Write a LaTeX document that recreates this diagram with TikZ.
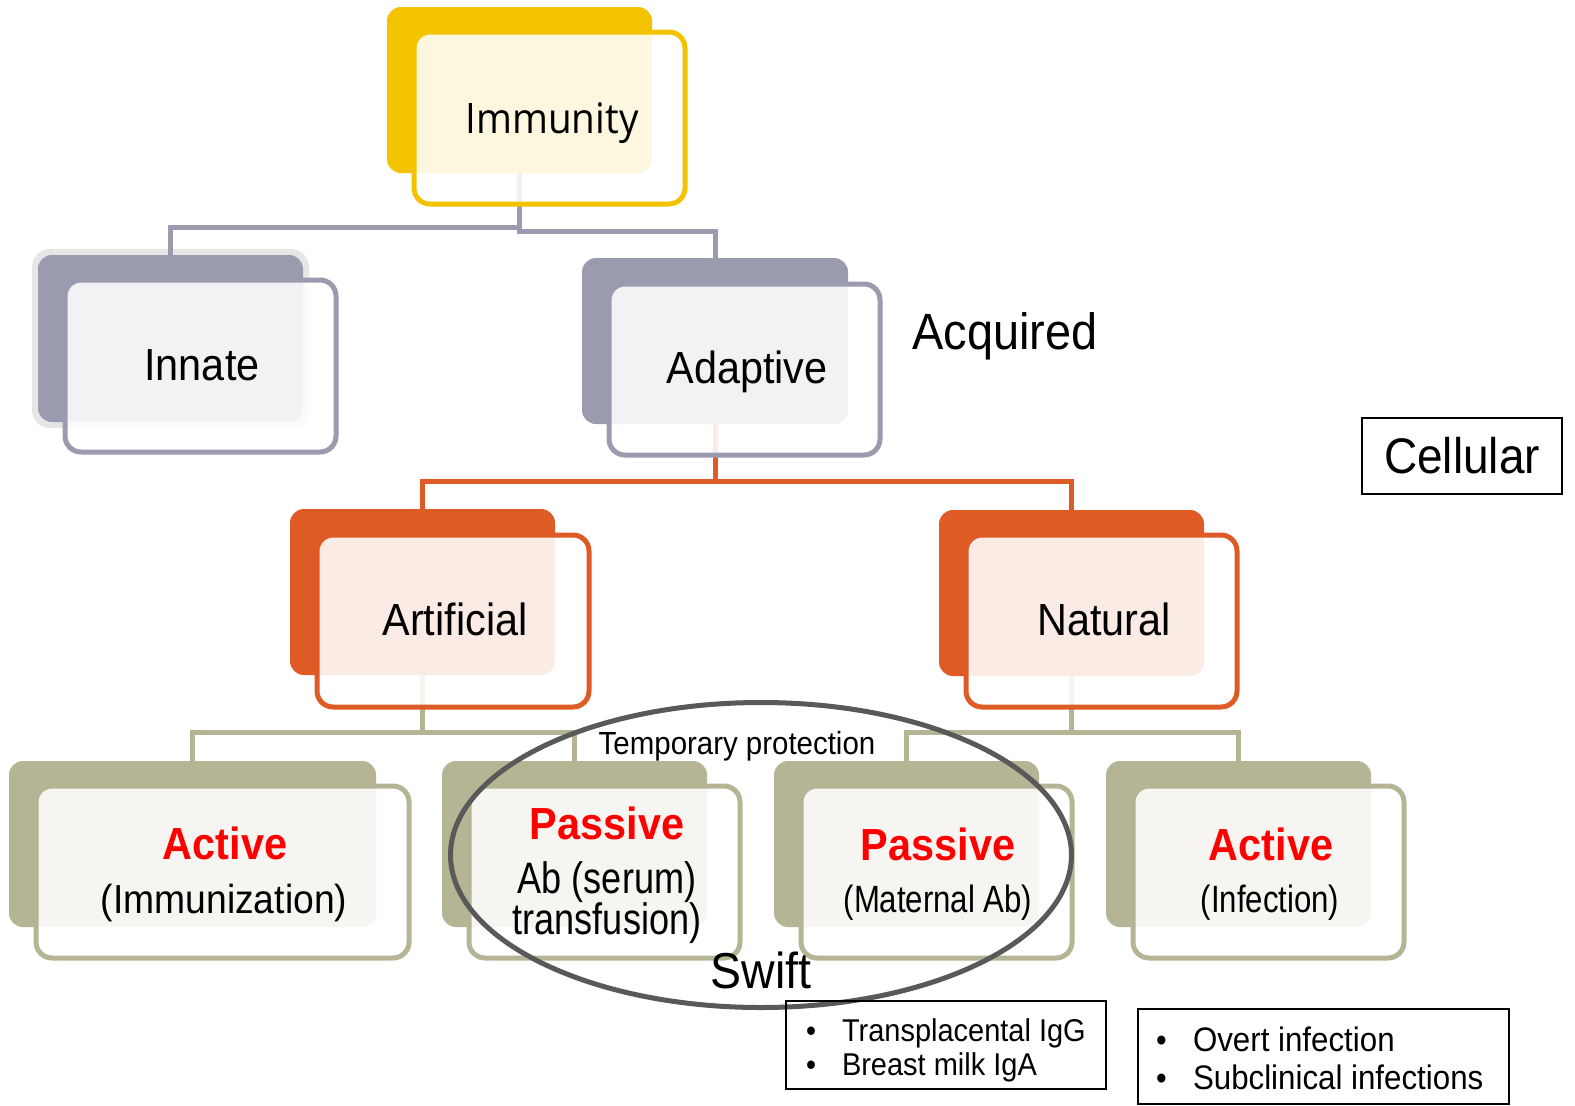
\documentclass[tikz,border=0pt]{standalone}
\usepackage{fontspec}
\setmainfont{Liberation Sans}[FakeStretch=0.92]
\newfontfamily\narrowf{Liberation Sans}[FakeStretch=0.82]
\newfontfamily\immf{Open Sans}[FakeStretch=0.92]
\usetikzlibrary{fit,shapes.geometric}
\definecolor{cyel}{HTML}{F4C300}
\definecolor{cgry}{HTML}{9B9BAF}
\definecolor{corg}{HTML}{DE5B25}
\definecolor{colv}{HTML}{B5B494}
\definecolor{chalo}{HTML}{E6E6E6}
\definecolor{cell}{HTML}{595959}
\definecolor{cred}{HTML}{FF0000}
\newcommand\fsz[1]{\fontsize{#1}{#1}\selectfont}
\begin{document}
\begin{tikzpicture}[x=1pt,y=-1pt,
  backbox/.style={fill=#1, draw=none, rounded corners=14pt, inner sep=0pt, outer sep=0pt},
  frontbox/.style={draw=#1, line width=5pt, fill=white, fill opacity=0.88, rounded corners=16pt, inner sep=0pt, outer sep=0pt},
  conn/.style={draw=#1, line width=5pt},
  lbl/.style={inner sep=0pt, outer sep=0pt, anchor=base, text=black},
  lblw/.style={inner sep=0pt, outer sep=0pt, anchor=base west, text=black},
  redlbl/.style={inner sep=0pt, outer sep=0pt, anchor=base, text=cred, font=\bfseries\fsz{45}},
  plainbox/.style={draw=black, line width=1.6pt, inner sep=0pt, outer sep=0pt}
]
\useasboundingbox (0,0) rectangle (1575,1106);
\fill[white] (0,0) rectangle (1575,1106);

% back boxes
\node[backbox=chalo, rounded corners=18pt, fit={(32,249) (309,428)}] (innH) {};
\node[backbox=cyel, fit={(387,7) (652,173)}] (immB) {};
\node[backbox=cgry, fit={(38,255) (303,422)}] (innB) {};
\node[backbox=cgry, fit={(582,258) (848,424)}] (adaB) {};
\node[backbox=corg, fit={(290,509) (555,675)}] (artB) {};
\node[backbox=corg, fit={(939,510) (1204,676)}] (natB) {};
\node[backbox=colv, fit={(9,761) (376,927)}] (a1B) {};
\node[backbox=colv, fit={(442,761) (707,927)}] (p1B) {};
\node[backbox=colv, fit={(774,761) (1039,927)}] (p2B) {};
\node[backbox=colv, fit={(1106,761) (1371,927)}] (a2B) {};

% connectors
\draw[conn=cgry] (immB.south) -- ++(0,54) -| (innB.north);
\draw[conn=cgry] (immB.south) -- ++(0,58) -| (adaB.north);
\draw[conn=corg] (adaB.south) -- ++(0,57) -| (artB.north);
\draw[conn=corg] (adaB.south) -- ++(0,57) -| (natB.north);
\draw[conn=colv] (artB.south) -- ++(0,57) -| (a1B.north);
\draw[conn=colv] (artB.south) -- ++(0,57) -| (p1B.north);
\draw[conn=colv] (natB.south) -- ++(0,56) -| (p2B.north);
\draw[conn=colv] (natB.south) -- ++(0,56) -| (a2B.north);

% front boxes
\node[frontbox=cyel, fit={(414,32) (685,204)}] (imm) {};
\node[frontbox=cgry, fit={(65,280) (336,452)}] (inn) {};
\node[frontbox=cgry, fit={(609,284) (880,455)}] (ada) {};
\node[frontbox=corg, fit={(317,535) (589,707)}] (art) {};
\node[frontbox=corg, fit={(966,535) (1237,707)}] (nat) {};
\node[frontbox=colv, fit={(36,786) (409,958)}] (a1) {};
\node[frontbox=colv, fit={(469,786) (740,958)}] (p1) {};
\node[frontbox=colv, fit={(801,786) (1072,958)}] (p2) {};
\node[frontbox=colv, fit={(1133,786) (1404,958)}] (a2) {};

% labels
\node[lbl, font=\immf\fsz{42}] (immT) at (552,133) {Immunity};
\node[lbl, font=\fsz{45}] (innT) at (202,380) {Innate};
\node[lbl, font=\fsz{45}] (adaT) at (747,383) {Adaptive};
\node[lbl, font=\fsz{45}] (artT) at (455,635) {Artificial};
\node[lbl, font=\fsz{45}] (natT) at (1104,635) {Natural};
\node[lbl, font=\fsz{51}] (acqT) at (1005,349) {Acquired};
\node[plainbox, minimum width=200pt, minimum height=76pt, font=\fsz{50}] (cel) at (1462,456) {Cellular};

\node[redlbl] (a1T) at (225,859) {Active};
\node[lbl, font=\fsz{40.5}] (a1S) at (224,913) {(Immunization)};
\node[redlbl] (p1T) at (607,839) {Passive};
\node[lbl, font=\narrowf\fsz{44}] (p1S) at (607,893) {Ab (serum)};
\node[lbl, font=\narrowf\fsz{44}] (p1U) at (607,934) {transfusion)};
\node[redlbl] (p2T) at (938,860) {Passive};
\node[lbl, font=\narrowf\fsz{38}] (p2S) at (938,912) {(Maternal Ab)};
\node[redlbl] (a2T) at (1271,860) {Active};
\node[lbl, font=\narrowf\fsz{38}] (a2S) at (1270,912) {(Infection)};

% ellipse
\node[draw=cell, line width=5pt, ellipse, minimum width=621pt, minimum height=305pt, inner sep=0pt] (ell) at (761,855) {};
\node[lbl, font=\fsz{32}] (tmpT) at (737,754) {Temporary protection};
\node[lbl, font=\fsz{50.5}] (swT) at (761,988) {Swift};

% bullet boxes
\node[plainbox, fit={(786,1001) (1106,1089)}] (bx1) {};
\node[lblw, font=\fsz{31}] (b1a) at (806,1041) {•};
\node[lblw, font=\fsz{31.5}] (t1a) at (842,1041) {Transplacental IgG};
\node[lblw, font=\fsz{31}] (b1b) at (806,1075) {•};
\node[lblw, font=\fsz{31.5}] (t1b) at (842,1075) {Breast milk IgA};
\node[plainbox, fit={(1138,1009) (1509,1104)}] (bx2) {};
\node[lblw, font=\fsz{33}] (b2a) at (1156,1051) {•};
\node[lblw, font=\fsz{34}] (t2a) at (1193,1051) {Overt infection};
\node[lblw, font=\fsz{33}] (b2b) at (1156,1089) {•};
\node[lblw, font=\fsz{34}] (t2b) at (1193,1089) {Subclinical infections};
\end{tikzpicture}
\end{document}
